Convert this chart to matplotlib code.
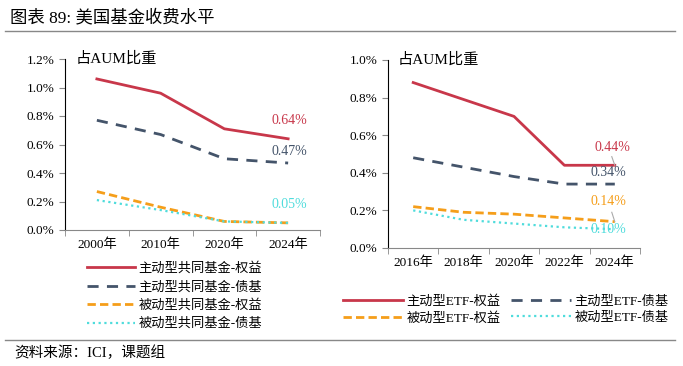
import matplotlib
matplotlib.use("Agg")
import matplotlib.pyplot as plt
from matplotlib.lines import Line2D

plt.rcParams['font.family'] = ['Liberation Serif', 'Noto Sans CJK SC', 'DejaVu Sans']

# Left panel data (% of AUM)
left_years = ["2000年", "2010年", "2020年", "2024年"]
left_active_eq = [1.06, 0.96, 0.71, 0.64]
left_active_bd = [0.77, 0.67, 0.50, 0.47]
left_passive_eq = [0.27, 0.16, 0.06, 0.05]
left_passive_bd = [0.21, 0.14, 0.06, 0.05]
left_names = ["主动型共同基金-权益", "主动型共同基金-债基", "被动型共同基金-权益", "被动型共同基金-债基"]

# Right panel data (% of AUM)
right_years = ["2016年", "2018年", "2020年", "2022年", "2024年"]
right_active_eq = [0.88, 0.79, 0.70, 0.44, 0.44]
right_active_bd = [0.48, 0.43, 0.38, 0.34, 0.34]
right_passive_eq = [0.22, 0.19, 0.18, 0.16, 0.14]
right_passive_bd = [0.20, 0.15, 0.13, 0.11, 0.10]
right_names = ["主动型ETF-权益", "主动型ETF-债基", "被动型ETF-权益", "被动型ETF-债基"]

RED = "#C8374A"
NAVY = "#44546A"
ORANGE = "#F59E1A"
CYAN = "#4FDCDC"
styles = [
    dict(color=RED, lw=2.0, ls='-'),
    dict(color=NAVY, lw=2.0, ls=(0, (4, 3))),
    dict(color=ORANGE, lw=2.0, ls=(0, (3, 1.5))),
    dict(color=CYAN, lw=1.6, ls=(0, (1, 1.6))),
]

fig = plt.figure(figsize=(6.83, 3.66), dpi=100)

# Title and rules
fig.text(10/683, 1-18/366, "图表 89: 美国基金收费水平", fontsize=12.5, va='center', ha='left')
fig.add_artist(Line2D([5/683, 675/683], [1-31/366, 1-31/366], color='#888888', lw=1.0))
fig.add_artist(Line2D([5/683, 675/683], [1-340/366, 1-340/366], color='#888888', lw=1.0))
fig.text(14/683, 1-353/366, "资料来源：ICI，课题组", fontsize=10.5, va='center', ha='left')


def setup_axes(ax, ymax, ystep, cats):
    ax.set_xlim(-0.5, len(cats) - 0.5)
    ax.set_ylim(0, ymax)
    ticks = [i * ystep for i in range(int(round(ymax / ystep)) + 1)]
    ax.set_yticks(ticks)
    ax.set_yticklabels([f"{t:.1f}%" for t in ticks], fontsize=9.5)
    ax.set_xticks(range(len(cats)))
    ax.set_xticklabels(cats, fontsize=9.5)
    ax.set_xticks([i - 0.5 for i in range(len(cats) + 1)], minor=True)
    ax.tick_params(axis='x', which='major', length=0, pad=6)
    ax.tick_params(axis='x', which='minor', length=4, color='#888888')
    ax.tick_params(axis='y', length=4, color='#888888')
    for s in ['top', 'right']:
        ax.spines[s].set_visible(False)
    ax.spines['left'].set_color('black')
    ax.spines['bottom'].set_color('#888888')


# Left panel
axL = fig.add_axes([65/683, 1-230/366, (320-65)/683, (230-59)/366])
setup_axes(axL, 1.2, 0.2, left_years)
xl = range(len(left_years))
lines_l = []
for series, st, nm in zip([left_active_eq, left_active_bd, left_passive_eq, left_passive_bd], styles, left_names):
    ln, = axL.plot(xl, series, label=nm, **st)
    lines_l.append(ln)
axL.text(0.04, 1.0, "占AUM比重", transform=axL.transAxes, fontsize=11, va='center', ha='left')
axL.annotate(f"{left_active_eq[-1]:.2f}%", (3, left_active_eq[-1]), xytext=(3.02, 0.77),
             color=RED, fontsize=10, ha='center', va='center')
axL.annotate(f"{left_active_bd[-1]:.2f}%", (3, left_active_bd[-1]), xytext=(3.02, 0.55),
             color=NAVY, fontsize=10, ha='center', va='center')
axL.annotate(f"{left_passive_bd[-1]:.2f}%", (3, left_passive_bd[-1]), xytext=(3.02, 0.18),
             color=CYAN, fontsize=10, ha='center', va='center')
fig.legend(handles=lines_l, loc='upper left', bbox_to_anchor=(82/683, 1-257/366),
           frameon=False, fontsize=9.5, ncol=1, handlelength=3.6, labelspacing=0.45,
           handletextpad=0.3, borderaxespad=0)

# Right panel
axR = fig.add_axes([388/683, 1-248/366, (640-388)/683, (248-60)/366])
setup_axes(axR, 1.0, 0.2, right_years)
xr = range(len(right_years))
lines_r = []
for series, st, nm in zip([right_active_eq, right_active_bd, right_passive_eq, right_passive_bd], styles, right_names):
    ln, = axR.plot(xr, series, label=nm, **st)
    lines_r.append(ln)
axR.text(0.04, 1.0, "占AUM比重", transform=axR.transAxes, fontsize=11, va='center', ha='left')
axR.text(3.95, 0.537, f"{right_active_eq[-1]:.2f}%", color=RED, fontsize=10, ha='center', va='center')
axR.plot([3.94, 4.0], [0.486, right_active_eq[-1]], color='#AAAAAA', lw=0.8)
axR.text(3.88, 0.40, f"{right_active_bd[-1]:.2f}%", color=NAVY, fontsize=10, ha='center', va='center')
axR.text(3.88, 0.245, f"{right_passive_eq[-1]:.2f}%", color=ORANGE, fontsize=10, ha='center', va='center')
axR.plot([3.94, 4.0], [0.19, right_passive_eq[-1]], color='#AAAAAA', lw=0.8)
axR.text(3.88, 0.096, f"{right_passive_bd[-1]:.2f}%", color=CYAN, fontsize=10, ha='center', va='center')
# column-major fill: reorder so rows read (active eq, active bond), (passive eq, passive bond)
order = [0, 2, 1, 3]
fig.legend(handles=[lines_r[i] for i in order], loc='upper left', bbox_to_anchor=(338/683, 1-290/366),
           frameon=False, fontsize=9.5, ncol=2, handlelength=4.5, labelspacing=0.3,
           handletextpad=0.3, columnspacing=0.8, borderaxespad=0)

fig.savefig("out.png", dpi=100)
